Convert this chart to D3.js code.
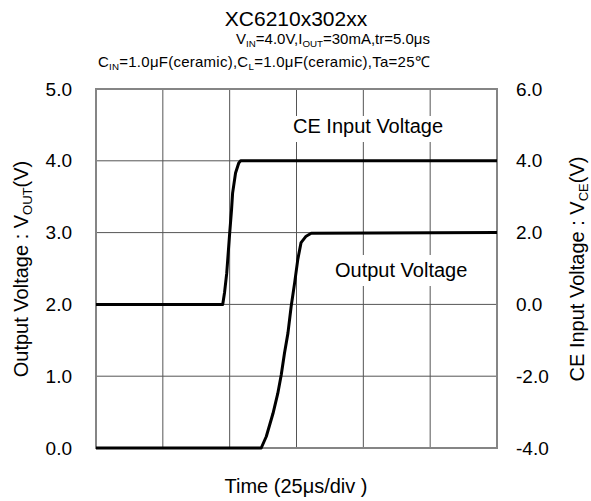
<!DOCTYPE html>
<html><head><meta charset="utf-8">
<script src="https://cdn.jsdelivr.net/npm/d3@7"></script>
<style>
html,body{margin:0;padding:0;background:#fff;}
svg{display:block;font-family:"Liberation Sans",Arial,sans-serif;}
</style>
</head><body>
<svg id="chart" width="591" height="501"></svg>
<script>
// ---- data ----
const timeTicks = [0, 25, 50, 75, 100, 125, 150];        // µs (25 µs/div)
const voutTicks = [0, 1, 2, 3, 4, 5];                    // left axis (V)
const vceTicks  = [-4, -2, 0, 2, 4, 6];                  // right axis (V)

const ceTime = [0, 47.4, 48.1, 48.9, 50.0, 50.7, 51.1, 52.2, 53.4, 54.1, 150];
const ceVolt = [0, 0, 0.34, 0.87, 1.98, 2.63, 3.10, 3.66, 3.94, 4.0, 4.0];

const outTime = [0, 61.8, 63.7, 66.2, 68.0, 69.3, 70.5, 71.8, 73.0, 74.3, 75.5, 76.7, 78.6, 80.5, 150];
const outVolt = [0, 0, 0.16, 0.48, 0.76, 1.02, 1.32, 1.60, 1.97, 2.30, 2.63, 2.86, 2.95, 2.99, 3.0];

// ---- layout ----
const L = 96, R = 497, T = 89, B = 448;
const svg = d3.select("#chart");
const x = d3.scaleLinear().domain([0, 150]).range([L, R]);
const yL = d3.scaleLinear().domain([0, 5]).range([B, T]);
const yR = d3.scaleLinear().domain([-4, 6]).range([B, T]);
const fmt = d => d3.format(".1f")(d).replace("\u2212", "-");

// grid
const g = svg.append("g");
g.selectAll(".vg").data(timeTicks.slice(1, -1)).join("line")
  .attr("x1", d => x(d)).attr("x2", d => x(d)).attr("y1", T).attr("y2", B)
  .attr("stroke", "#555").attr("stroke-width", 1);
g.selectAll(".hg").data(voutTicks.slice(1, -1)).join("line")
  .attr("x1", L).attr("x2", R).attr("y1", d => yL(d)).attr("y2", d => yL(d))
  .attr("stroke", "#555").attr("stroke-width", 1);

// in-plot labels with white background
function boxLabel(txt, lx, ly, bx, by, bw, bh) {
  svg.append("rect").attr("x", bx).attr("y", by).attr("width", bw).attr("height", bh).attr("fill", "#fff");
  svg.append("text").attr("x", lx).attr("y", ly).attr("font-size", 20).attr("fill", "#000").text(txt);
}
boxLabel("CE Input Voltage", 293, 133, 289, 116, 164, 26);
boxLabel("Output Voltage", 335, 277, 331, 255, 144, 31);

// border
svg.append("rect").attr("x", L).attr("y", T).attr("width", R - L).attr("height", B - T)
  .attr("fill", "none").attr("stroke", "#858585").attr("stroke-width", 2);

// axes (labels only)
const axL = svg.append("g").attr("transform", `translate(${L},0)`)
  .call(d3.axisLeft(yL).tickValues(voutTicks).tickFormat(fmt).tickSize(0).tickPadding(24));
const axR = svg.append("g").attr("transform", `translate(${R},0)`)
  .call(d3.axisRight(yR).tickValues(vceTicks).tickFormat(fmt).tickSize(0).tickPadding(19));
[axL, axR].forEach(a => {
  a.select(".domain").remove();
  a.selectAll("text").attr("font-size", 19).attr("font-family", "Liberation Sans, Arial, sans-serif").attr("fill", "#000");
});

// series
const ceLine = d3.line().x(d => x(d[0])).y(d => yR(d[1]));
const outLine = d3.line().x(d => x(d[0])).y(d => yL(d[1]));
svg.append("path").datum(ceTime.map((t, i) => [t, ceVolt[i]])).attr("d", ceLine)
  .attr("fill", "none").attr("stroke", "#000").attr("stroke-width", 3).attr("stroke-linejoin", "round");
svg.append("path").datum(outTime.map((t, i) => [t, outVolt[i]])).attr("d", outLine)
  .attr("fill", "none").attr("stroke", "#000").attr("stroke-width", 3).attr("stroke-linejoin", "round");

// text helper with subscripts (shift down for subscript, shift back on the following run)
function richText(sel, parts, size) {
  const shift = size * 0.18;
  let pending = 0;
  parts.forEach(p => {
    if (typeof p === "object") {
      sel.append("tspan").attr("font-size", size * 0.65).attr("dy", shift).text(p.s);
      pending = -shift;
    } else {
      const t = sel.append("tspan").text(p);
      if (pending) { t.attr("dy", pending); pending = 0; }
    }
  });
}

// title
svg.append("text").attr("x", 296).attr("y", 26).attr("text-anchor", "middle")
  .attr("font-size", 21).text("XC6210x302xx");
const s1 = svg.append("text").attr("x", 430).attr("y", 44).attr("text-anchor", "end").attr("font-size", 15);
richText(s1, ["V", {s: "IN"}, "=4.0V,I", {s: "OUT"}, "=30mA,tr=5.0μs"], 15);
const s2 = svg.append("text").attr("x", 430).attr("y", 67).attr("text-anchor", "end").attr("font-size", 15)
  .attr("letter-spacing", 0.25);
richText(s2, ["C", {s: "IN"}, "=1.0μF(ceramic),C", {s: "L"}, "=1.0μF(ceramic),Ta=25℃"], 15);

// axis titles
svg.append("text").attr("x", 296).attr("y", 493).attr("text-anchor", "middle")
  .attr("font-size", 20).text("Time (25μs/div )");
const yt1 = svg.append("text").attr("transform", "translate(28,269) rotate(-90)")
  .attr("text-anchor", "middle").attr("font-size", 20);
richText(yt1, ["Output Voltage : V", {s: "OUT"}, "(V)"], 20);
const yt2 = svg.append("text").attr("transform", "translate(584,269) rotate(-90)")
  .attr("text-anchor", "middle").attr("font-size", 20);
richText(yt2, ["CE Input Voltage : V", {s: "CE"}, "(V)"], 20);
</script>
</body></html>
